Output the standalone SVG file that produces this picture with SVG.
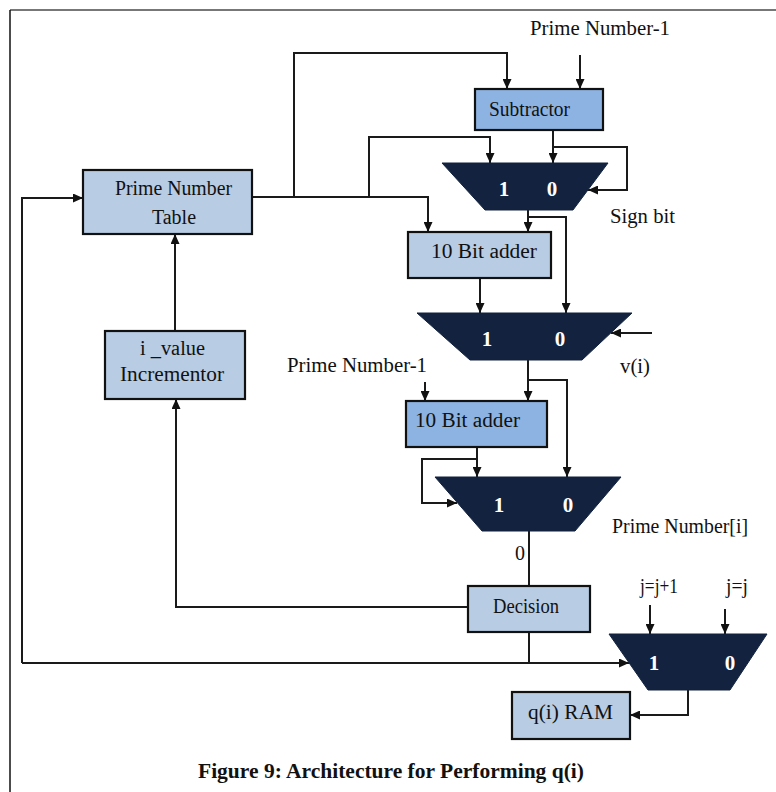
<svg xmlns="http://www.w3.org/2000/svg" width="776" height="792" viewBox="0 0 776 792">
<defs>
<marker id="ah" markerWidth="10" markerHeight="9" refX="10" refY="4.5" orient="auto" markerUnits="userSpaceOnUse">
<path d="M0,0 L10,4.5 L0,9 z" fill="#111"/>
</marker>
<style>
.w{fill:none;stroke:#1a1a1a;stroke-width:2}
.a{fill:none;stroke:#1a1a1a;stroke-width:2;marker-end:url(#ah)}
.bm{fill:#8DB3E2;stroke:#111;stroke-width:2.2}
.bl{fill:#B8CCE4;stroke:#111;stroke-width:2.2}
.mux{fill:#13233F;stroke:#13233F;stroke-width:1}
.t{font-family:"Liberation Serif","Times New Roman",serif;font-size:20px;fill:#111}
.m{font-family:"Liberation Serif","Times New Roman",serif;font-size:21px;font-weight:bold;fill:#fff;text-anchor:middle}
.c{text-anchor:middle}
</style>
</defs>
<rect width="776" height="792" fill="#fff"/>
<line x1="10" y1="10" x2="776" y2="10" stroke="#777" stroke-width="2"/>
<line x1="10" y1="10" x2="10" y2="792" stroke="#111" stroke-width="1.5"/>

<g id="connectors">
<polyline class="a" points="294,197 294,53 507,53 507,89"/>
<line class="a" x1="580" y1="55" x2="580" y2="89"/>
<polyline class="a" points="252,197 428,197 428,232"/>
<polyline class="a" points="369,197 369,137 490,137 490,163"/>
<line class="a" x1="553" y1="130" x2="553" y2="163"/>
<polyline class="a" points="553,147 627,147 627,190 588,190"/>
<line class="a" x1="528" y1="210" x2="528" y2="232"/>
<polyline class="a" points="528,217 566,217 566,313"/>
<line class="a" x1="480" y1="278" x2="480" y2="313"/>
<line class="a" x1="652" y1="333" x2="611" y2="333"/>
<line class="a" x1="528" y1="360" x2="528" y2="401"/>
<polyline class="a" points="528,380 567,380 567,477"/>
<line class="a" x1="425" y1="382" x2="425" y2="401"/>
<line class="a" x1="477" y1="447" x2="477" y2="477"/>
<polyline class="a" points="477,459 422,459 422,503 457,503"/>
<line class="w" x1="529" y1="531" x2="529" y2="586"/>
<polyline class="a" points="468,607 176,607 176,399"/>
<line class="a" x1="175" y1="331" x2="175" y2="234"/>
<line class="w" x1="529" y1="632" x2="529" y2="663"/>
<line class="a" x1="22" y1="663" x2="629" y2="663"/>
<polyline class="a" points="22,663 22,198 83,198"/>
<line class="a" x1="650" y1="605" x2="650" y2="634"/>
<line class="a" x1="725" y1="609" x2="725" y2="634"/>
<polyline class="a" points="688,690 688,715 630,715"/>
</g>

<g id="prime-table">
<rect class="bl" x="83" y="170" width="169" height="64"/>
<text class="t" x="115" y="195" textLength="117" lengthAdjust="spacingAndGlyphs">Prime Number</text>
<text class="t c" x="174" y="224">Table</text>
</g>
<g id="incrementor">
<rect class="bl" x="105" y="331" width="140" height="68"/>
<text class="t" x="140" y="355" textLength="65" lengthAdjust="spacingAndGlyphs">i _value</text>
<text class="t" x="120" y="381" textLength="104" lengthAdjust="spacingAndGlyphs">Incrementor</text>
</g>
<g id="subtractor">
<rect class="bm" x="475" y="89" width="128" height="41"/>
<text class="t" x="489" y="116" textLength="81" lengthAdjust="spacingAndGlyphs">Subtractor</text>
</g>
<g id="label-pn1-top"><text class="t" x="530" y="35" textLength="140" lengthAdjust="spacingAndGlyphs">Prime Number-1</text></g>
<g id="mux1">
<polygon class="mux" points="442,163 608,163 573,210 485,210"/>
<text class="m" x="504" y="196">1</text>
<text class="m" x="552" y="196">0</text>
</g>
<g id="label-sign"><text class="t" x="610" y="223" textLength="65" lengthAdjust="spacingAndGlyphs">Sign bit</text></g>
<g id="adder1">
<rect class="bl" x="408" y="232" width="143" height="46"/>
<text class="t" x="431" y="258" textLength="106" lengthAdjust="spacingAndGlyphs">10 Bit adder</text>
</g>
<g id="mux2">
<polygon class="mux" points="417,313 632,313 582,360 470,360"/>
<text class="m" x="487" y="346">1</text>
<text class="m" x="560" y="346">0</text>
</g>
<g id="label-vi"><text class="t" x="620" y="373" textLength="30" lengthAdjust="spacingAndGlyphs">v(i)</text></g>
<g id="label-pn1-mid"><text class="t" x="287" y="372" textLength="140" lengthAdjust="spacingAndGlyphs">Prime Number-1</text></g>
<g id="adder2">
<rect class="bm" x="406" y="401" width="141" height="46"/>
<text class="t" x="415" y="427" textLength="105" lengthAdjust="spacingAndGlyphs">10 Bit adder</text>
</g>
<g id="mux3">
<polygon class="mux" points="435,477 621,477 575,531 482,531"/>
<text class="m" x="499" y="512">1</text>
<text class="m" x="568" y="512">0</text>
</g>
<g id="label-pni"><text class="t" x="612" y="533" textLength="136" lengthAdjust="spacingAndGlyphs">Prime Number[i]</text></g>
<g id="label-zero"><text class="t c" x="520" y="560">0</text></g>
<g id="decision">
<rect class="bl" x="468" y="586" width="122" height="46"/>
<text class="t" x="493" y="613" textLength="66" lengthAdjust="spacingAndGlyphs">Decision</text>
</g>
<g id="label-j1"><text class="t" x="640" y="593" font-size="16" textLength="38" lengthAdjust="spacingAndGlyphs">j=j+1</text></g>
<g id="label-j"><text class="t" x="726" y="593" font-size="18" textLength="22" lengthAdjust="spacingAndGlyphs">j=j</text></g>
<g id="mux4">
<polygon class="mux" points="609,634 767,634 730,690 648,690"/>
<text class="m" x="654" y="670">1</text>
<text class="m" x="730" y="670">0</text>
</g>
<g id="ram">
<rect class="bl" x="512" y="692" width="118" height="47"/>
<text class="t" x="528" y="719" textLength="85" lengthAdjust="spacingAndGlyphs">q(i) RAM</text>
</g>
<g id="caption">
<text class="t" x="198" y="778" font-weight="bold" textLength="386" lengthAdjust="spacingAndGlyphs">Figure 9: Architecture for Performing q(i)</text>
</g>
</svg>
